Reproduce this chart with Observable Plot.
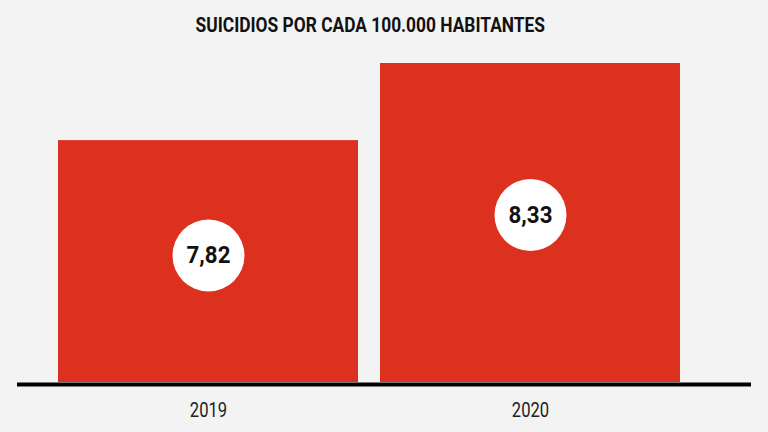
<!DOCTYPE html>
<html>
<head>
<meta charset="utf-8">
<script src="https://cdn.jsdelivr.net/npm/d3@7"></script>
<script src="https://cdn.jsdelivr.net/npm/@observablehq/plot@0.6"></script>
<style>
  html, body { margin: 0; padding: 0; background: #f3f3f3; width: 768px; height: 432px; overflow: hidden; }
  #title {
    box-sizing: border-box; height: 50px; padding-top: 16px; padding-right: 28px;
    text-align: center; font-family: Roboto, sans-serif;
    font-weight: bold; font-size: 19.5px; line-height: 20px; color: #111;
  }
  #title span { display: inline-block; transform: scaleX(0.89); transform-origin: center; white-space: nowrap; }
  #chart svg { display: block; background: transparent; }
</style>
</head>
<body>
<div id="title"><span>SUICIDIOS POR CADA 100.000 HABITANTES</span></div>
<div id="chart"></div>
<script>
const years = ["2019", "2020"];
const values = [7.82, 8.33];
const yMin = 6.22;

const data = years.map((year, i) => ({year, value: values[i]}));
const fmt = v => v.toFixed(2).replace(".", ",");
const font = "Roboto, sans-serif";
const labelY = d => yMin + 0.525 * (d.value - yMin);

const chart = Plot.plot({
  width: 768,
  height: 382,
  marginTop: 13,
  marginBottom: 50,
  marginLeft: 17,
  marginRight: 17,
  style: {background: "transparent", overflow: "visible"},
  x: {domain: years, range: [47, 691], paddingInner: 22 / 322, paddingOuter: 11 / 322, axis: null},
  y: {domain: [yMin, d3.max(values)], axis: null},
  marks: [
    Plot.barY(data, {x: "year", y1: yMin, y2: "value", fill: "#dc311f"}),
    Plot.ruleY([yMin], {stroke: "#000", strokeWidth: 4, dy: 2}),
    Plot.text(data, {x: "year", y: yMin, text: "year", dy: 28, fontSize: 21, fontFamily: font, fill: "#222"}),
    Plot.dot(data, {x: "year", y: labelY, r: 36, fill: "white", stroke: null}),
    Plot.text(data, {x: "year", y: labelY, text: d => fmt(d.value),
      fontSize: 24, fontWeight: "bold", fontFamily: font, fill: "#111"})
  ]
});
document.getElementById("chart").appendChild(chart);

// condense the label glyphs (the reference uses a condensed typeface)
chart.querySelectorAll("text").forEach(el => {
  const t = el.textContent;
  const f = /^\d{4}$/.test(t) ? 0.79 : (t.includes(",") ? 0.93 : 1);
  if (f !== 1) {
    const w = el.getComputedTextLength();
    el.setAttribute("textLength", (w * f).toFixed(1));
    el.setAttribute("lengthAdjust", "spacingAndGlyphs");
  }
});
</script>
</body>
</html>
